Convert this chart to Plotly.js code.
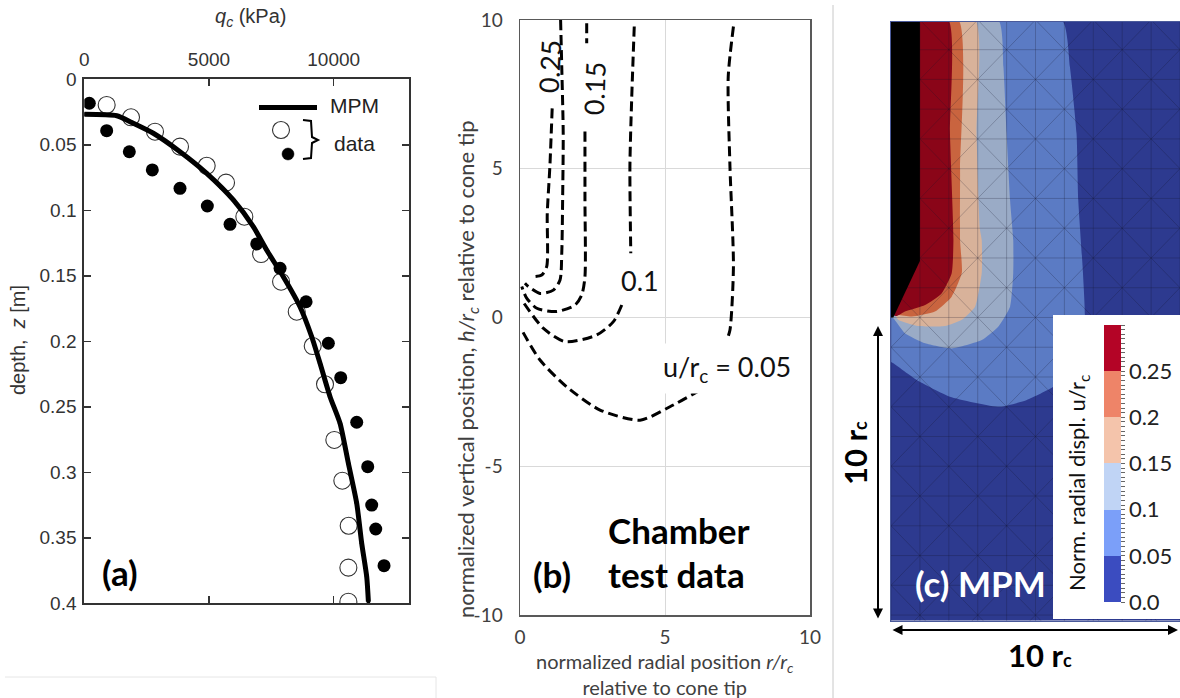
<!DOCTYPE html>
<html>
<head>
<meta charset="utf-8">
<script src="https://cdn.plot.ly/plotly-3.0.1.min.js"></script>
<style>html,body{margin:0;padding:0;background:#fff;}#chart{width:1180px;height:698px;}</style>
</head>
<body>
<div id="chart"></div>
<script>
// ---------- Panel (a): cone resistance vs depth ----------
const mpmQc = [0, 1300, 1900, 2767, 3837, 4907, 5975, 6776, 7310, 7979, 8648, 9118, 9451, 9852, 10253, 10587, 10922, 11122, 11323, 11390];
const mpmZ  = [0.0267, 0.0278, 0.033, 0.0412, 0.0553, 0.0718, 0.0921, 0.1125, 0.1303, 0.1507, 0.1736, 0.1965, 0.2168, 0.2423, 0.2626, 0.2931, 0.3237, 0.3542, 0.3797, 0.3988];
const openQc = [897, 1873, 2835, 3837, 4907, 5682, 6416, 7087, 7889, 8517, 9158, 9651, 10024, 10345, 10600, 10587, 10587];
const openZ  = [0.0196, 0.029, 0.040, 0.0514, 0.066, 0.0789, 0.1049, 0.1334, 0.1545, 0.1774, 0.2036, 0.2328, 0.2753, 0.3064, 0.3408, 0.3728, 0.3988];
const fillQc = [200, 897, 1805, 2727, 3837, 4933, 5843, 6913, 7849, 8892, 9785, 10280, 10922, 11363, 11523, 11684, 12017];
const fillZ  = [0.0183, 0.0392, 0.0553, 0.0692, 0.0832, 0.0967, 0.1107, 0.1257, 0.1443, 0.1698, 0.2015, 0.2278, 0.2618, 0.2957, 0.325, 0.3433, 0.3713];
const qcTicks = [0, 5000, 10000];
const qcTickText = ['0', '5000', '10000'];
const zTicks = [0, 0.05, 0.1, 0.15, 0.2, 0.25, 0.3, 0.35, 0.4];

// ---------- Panel (b): chamber test contours (r/rc, h/rc) ----------
const c025R = [1.11, 1.03, 0.94, 0.92, 0.75, 0.40];
const c025H = [7.03, 5.07, 3.5, 1.71, 1.43, 1.37];
const c020R = [1.40, 1.44, 1.49, 1.47, 1.44, 1.38, 1.15, 0.69, 0.29, 0.17];
const c020H = [10.0, 8.43, 6.19, 3.95, 2.16, 1.26, 0.92, 0.81, 1.04, 1.15];
const c015R = [2.30, 2.30, null, 2.24, 2.24, 2.24, 2.13, 1.90, 1.26, 0.58, 0.23, 0.06];
const c015H = [9.89, 9.22, null, 6.25, 3.95, 1.37, 0.76, 0.42, 0.20, 0.31, 0.65, 1.04];
const c010R = [3.94, 3.85, 3.79, 3.82, null, 3.51, 3.22, 2.64, 1.55, 0.80, 0.06];
const c010H = [9.78, 7.31, 5.07, 2.16, null, 0.42, -0.14, -0.59, -0.81, -0.36, 0.59];
const c005R = [7.36, 7.18, 7.24, 7.36, 7.24, 7.13, null, 6.21, 5.17, 4.14, 2.76, 1.61, 0.69, 0.06];
const c005H = [9.78, 8.09, 5.07, 1.71, -0.42, -0.76, null, -2.44, -3.0, -3.45, -3.11, -2.33, -1.43, -0.42];
const bTicks = [-10, -5, 0, 5, 10];
const bTickText = ['-10', '-5', '0', '5', '10'];
const rTicks = [0, 5, 10];
const rTickText = ['0', '5', '10'];

// ---------- Panel (c): MPM radial displacement bands (outer boundaries) ----------
const band005R = [0, 5.91, 6.19, 6.42, 6.48, 6.63, 6.71, 6.6, 6.2, 5.62, 4.70, 3.77, 2.04, 0.89, 0.08, 0];
const band005H = [10, 10, 8.43, 6.19, 3.95, 1.71, 0.03, -1.0, -1.8, -2.33, -2.77, -3.0, -2.66, -2.10, -1.54, -1.5];
const band010R = [0, 3.71, 3.89, 4.0, 4.12, 4.23, 4.23, 4.12, 3.71, 3.14, 2.10, 1.18, 0.48, 0.08, 0];
const band010H = [10, 10, 8.43, 6.19, 3.95, 2.6, 1.5, 0.36, -0.31, -0.76, -1.04, -0.87, -0.53, -0.03, 0];
const band015R = [0, 2.91, 2.96, 3.08, 3.14, 3.14, 2.91, 2.45, 1.87, 0.94, 0.25, 0.14, 0];
const band015H = [10, 10, 6.19, 2.95, 2.6, 1.5, 0.36, -0.08, -0.29, -0.29, -0.08, 0.08, 0.1];
const band020R = [0, 2.33, 2.39, 2.39, 2.45, 2.10, 1.52, 0.72, 0.25, 0];
const band020H = [10, 10, 5.0, 2.6, 1.5, 0.70, 0.20, 0.03, 0.08, 0.1];
const band025R = [0, 1.98, 2.04, 2.16, 2.10, 1.75, 1.18, 0.48, 0.20, 0];
const band025H = [10, 10, 6.19, 2.6, 1.49, 0.81, 0.42, 0.20, 0.05, 0.1];
const coneR = [0, 1.0, 1.0, 0.08, 0];
const coneH = [10, 10, 1.9, 0.0, 0.0];
const meshCols = [0, 1, 2, 3, 4, 5, 6, 7, 8, 9, 10];
const meshRows = [-11, -10, -9, -8, -7, -6, -5, -4, -3, -2, -1, 0, 1, 2, 3, 4, 5, 6, 7, 8, 9, 10];
const levels = [0, 0.05, 0.1, 0.15, 0.2, 0.25, 0.3];
const levelLabels = ['0.0', '0.05', '0.1', '0.15', '0.2', '0.25', ''];
const barColors = ['#3b4cc0', '#7b9ff9', '#c0d4f5', '#f4c4ab', '#ee8468', '#b40426'];
const fieldColors = ['#2d3a8f', '#5b7bc4', '#9aabc6', '#d8b29a', '#c9643f', '#8a0518'];

// ---------- helpers ----------
const W = 1180, H = 698;
const PX = x => x / W;
const PY = y => 1 - y / H;
const cal = 'Lato, "Open Sans", sans-serif';
const hel = '"Liberation Sans", Arial, sans-serif';

const traces = [];

// Panel (a)
traces.push({type:'scatter', mode:'markers', x:openQc, y:openZ, xaxis:'x', yaxis:'y',
  marker:{symbol:'circle-open', size:17, color:'#333', line:{width:1.1, color:'#333'}}, hoverinfo:'skip'});
traces.push({type:'scatter', mode:'lines+markers', x:mpmQc, y:mpmZ, xaxis:'x', yaxis:'y',
  line:{color:'#000', width:5, shape:'spline', smoothing:0.6}, marker:{size:4, color:'#000'}, hoverinfo:'skip'});
traces.push({type:'scatter', mode:'markers', x:fillQc, y:fillZ, xaxis:'x', yaxis:'y',
  marker:{symbol:'circle', size:13, color:'#000'}, hoverinfo:'skip'});

// Panel (b)
const contourSet = [[c025R,c025H],[c020R,c020H],[c015R,c015H],[c010R,c010H],[c005R,c005H]];
contourSet.forEach(([r,h]) => traces.push({type:'scatter', mode:'lines', x:r, y:h, xaxis:'x2', yaxis:'y2',
  line:{color:'#000', width:3, dash:'10px,5px', shape:'spline', smoothing:0.7}, connectgaps:false, hoverinfo:'skip'}));

// Panel (c) filled bands
const bands = [[band005R,band005H],[band010R,band010H],[band015R,band015H],[band020R,band020H],[band025R,band025H]];
bands.forEach(([r,h],i) => traces.push({type:'scatter', mode:'lines', x:r, y:h, xaxis:'x3', yaxis:'y3',
  fill:'toself', fillcolor:fieldColors[i+1], line:{width:0, color:fieldColors[i+1], shape:'spline', smoothing:0.5}, hoverinfo:'skip'}));
// mesh overlay
const mx = [], my = [];
meshCols.forEach(c => { mx.push(c, c, null); my.push(meshRows[0], meshRows[meshRows.length-1], null); });
meshRows.forEach(r => { mx.push(meshCols[0], meshCols[meshCols.length-1], null); my.push(r, r, null); });
for (let i = 0; i < meshCols.length-1; i++) {
  for (let j = 0; j < meshRows.length-1; j++) {
    if ((i + j) % 2 === 0) { mx.push(meshCols[i], meshCols[i+1], null); my.push(meshRows[j], meshRows[j+1], null); }
    else { mx.push(meshCols[i], meshCols[i+1], null); my.push(meshRows[j+1], meshRows[j], null); }
  }
}
traces.push({type:'scatter', mode:'lines', x:mx, y:my, xaxis:'x3', yaxis:'y3',
  line:{color:'rgba(20,20,40,0.3)', width:0.8}, hoverinfo:'skip'});
traces.push({type:'scatter', mode:'lines', x:coneR, y:coneH, xaxis:'x3', yaxis:'y3',
  fill:'toself', fillcolor:'#000', line:{width:0, color:'#000'}, hoverinfo:'skip'});
// colorbar carrier
const cs = [];
barColors.forEach((c,i) => { cs.push([i/6, c]); cs.push([(i+1)/6, c]); });
const cbVals = [], cbText = [];
for (let k = 0; k <= 60; k++) {
  const v = +(k * 0.005).toFixed(3);
  cbVals.push(v);
  const idx = levels.findIndex(l => Math.abs(l - v) < 1e-9);
  cbText.push(idx >= 0 ? levelLabels[idx] : '');
}
traces.push({type:'scatter', mode:'markers', x:[5], y:[-50], xaxis:'x3', yaxis:'y3', hoverinfo:'skip',
  marker:{color:[0.1], cmin:0, cmax:0.3, colorscale:cs, opacity:0, showscale:true,
    colorbar:{x:PX(1104), xanchor:'left', y:PY(463.5), yanchor:'middle', len:277, lenmode:'pixels',
      thickness:17, thicknessmode:'pixels', outlinewidth:0, ticks:'outside', ticklen:4, tickwidth:1, tickcolor:'#666',
      tickmode:'array', tickvals:cbVals, ticktext:cbText, tickfont:{family:cal, size:22, color:'#222'},
      xpad:0, ypad:0, bgcolor:'rgba(0,0,0,0)'}}});

const shapes = [
  {type:'rect', xref:'x3', yref:'y3', x0:0, x1:10, y0:-10.19, y1:9.94, fillcolor:fieldColors[0], line:{width:0}, layer:'below'},
  {type:'rect', xref:'paper', yref:'paper', x0:PX(1053), x1:PX(1180), y0:PY(619), y1:PY(315), fillcolor:'#fff', line:{width:0}, layer:'above'},
  {type:'line', xref:'paper', yref:'paper', x0:PX(833), x1:PX(833), y0:PY(5), y1:PY(698), line:{color:'#c8c8c8', width:1}},
  {type:'line', xref:'paper', yref:'paper', x0:PX(5), x1:PX(436), y0:PY(677), y1:PY(677), line:{color:'#e6e6e6', width:1}},
  {type:'line', xref:'paper', yref:'paper', x0:PX(436), x1:PX(436), y0:PY(677), y1:PY(698), line:{color:'#e6e6e6', width:1}},
  {type:'line', xref:'paper', yref:'paper', x0:PX(259), x1:PX(317), y0:PY(107.5), y1:PY(107.5), line:{color:'#000', width:5}},
  {type:'circle', xref:'paper', yref:'paper', x0:PX(272.5), x1:PX(289.5), y0:PY(121.5), y1:PY(138.5), line:{color:'#333', width:1.1}, fillcolor:'rgba(0,0,0,0)'},
  {type:'circle', xref:'paper', yref:'paper', x0:PX(282), x1:PX(294), y0:PY(148), y1:PY(160), line:{color:'#000', width:0.5}, fillcolor:'#000'},
  {type:'path', xref:'paper', yref:'paper',
   path:`M${PX(303)},${PY(120)} L${PX(311)},${PY(121)} L${PX(312)},${PY(137)} L${PX(318)},${PY(140)} L${PX(312)},${PY(143)} L${PX(311)},${PY(158)} L${PX(303)},${PY(159)}`,
   line:{color:'#000', width:2}}
];

const A = (o) => Object.assign({xanchor:'center', yanchor:'middle', showarrow:false}, o);
const annotations = [
  // (a)
  A({xref:'paper', yref:'paper', x:PX(355), y:PY(105), text:'MPM', font:{family:hel, size:21, color:'#222'}}),
  A({xref:'paper', yref:'paper', x:PX(355), y:PY(143), text:'data', font:{family:hel, size:21, color:'#222'}}),
  A({xref:'paper', yref:'paper', x:PX(120), y:PY(572), text:'<b>(a)</b>', font:{family:cal, size:35, color:'#000'}}),
  A({xref:'paper', yref:'paper', x:PX(250), y:PY(18), text:'<i>q</i><sub><i>c</i></sub> (kPa)', font:{family:hel, size:20, color:'#333'}}),
  A({xref:'paper', yref:'paper', x:PX(18), y:PY(340), text:'depth,  <i>z</i> [m]', textangle:-90, font:{family:hel, size:20, color:'#333'}}),
  // (b)
  A({xref:'x2', yref:'y2', x:1.0, y:8.42, text:'0.25', textangle:-87, font:{family:cal, size:27, color:'#111'}}),
  A({xref:'x2', yref:'y2', x:2.55, y:7.71, text:'0.15', textangle:-88, font:{family:cal, size:27, color:'#111'}}),
  A({xref:'x2', yref:'y2', x:4.14, y:1.26, text:'0.1', bgcolor:'#fff', borderpad:5, font:{family:cal, size:27, color:'#111'}}),
  A({xref:'x2', yref:'y2', x:7.14, y:-1.72, text:'u/r<sub>c</sub> = 0.05', bgcolor:'#fff', borderpad:6, font:{family:cal, size:27, color:'#111'}}),
  A({xref:'x2', yref:'y2', x:1.1, y:-8.62, text:'<b>(b)</b>', font:{family:cal, size:35, color:'#000'}}),
  A({xref:'x2', yref:'y2', x:2.95, xanchor:'left', y:-7.14, text:'<b>Chamber</b>', font:{family:cal, size:35, color:'#000'}}),
  A({xref:'x2', yref:'y2', x:2.95, xanchor:'left', y:-8.62, text:'<b>test data</b>', font:{family:cal, size:35, color:'#000'}}),
  A({xref:'paper', yref:'paper', x:PX(467), y:PY(369), text:'normalized vertical position, <i>h/r<sub>c</sub></i> relative to cone tip', textangle:-90, font:{family:cal, size:22, color:'#404040'}}),
  A({xref:'paper', yref:'paper', x:PX(665), y:PY(674), text:'normalized radial position <i>r/r<sub>c</sub></i><br>relative to cone tip', font:{family:cal, size:20, color:'#404040'}}),
  // (c)
  A({xref:'paper', yref:'paper', x:PX(980), y:PY(583), text:'<b>(c) MPM</b>', font:{family:cal, size:35, color:'#fff'}}),
  A({xref:'paper', yref:'paper', x:PX(1078), y:PY(483), text:'Norm. radial displ. u/r<sub>c</sub>', textangle:-90, font:{family:cal, size:22, color:'#111'}}),
  {xref:'paper', yref:'paper', x:PX(878), y:PY(326), ax:0, ay:294, text:'', showarrow:true, arrowside:'end+start', arrowhead:2, arrowsize:1, arrowwidth:2, arrowcolor:'#000'},
  {xref:'paper', yref:'paper', x:PX(1178), y:PY(630), ax:-287, ay:0, text:'', showarrow:true, arrowside:'end+start', arrowhead:2, arrowsize:1, arrowwidth:2, arrowcolor:'#000'},
  A({xref:'paper', yref:'paper', x:PX(855), y:PY(453), text:'<b>10 r<span style="font-size:18px">c</span></b>', textangle:-90, font:{family:cal, size:31, color:'#000'}}),
  A({xref:'paper', yref:'paper', x:PX(1040), y:PY(655), text:'<b>10 r<span style="font-size:18px">c</span></b>', font:{family:cal, size:31, color:'#000'}})
];

const layout = {
  width:W, height:H, margin:{l:0, r:0, t:0, b:0}, paper_bgcolor:'#fff', plot_bgcolor:'rgba(0,0,0,0)',
  showlegend:false, shapes:shapes, annotations:annotations,
  xaxis:{domain:[PX(84.3), PX(409.3)], anchor:'y', side:'top', range:[0, 13030], tickmode:'array', tickvals:qcTicks, ticktext:qcTickText,
    ticks:'inside', ticklen:7, tickwidth:1.5, tickcolor:'#333', showline:true, linecolor:'#333', linewidth:2, mirror:'ticks',
    showgrid:false, zeroline:false, tickfont:{family:hel, size:19, color:'#333'}, ticklabelstandoff:4},
  yaxis:{domain:[PY(603.3), PY(79.3)], anchor:'x', range:[0.4, 0], tickmode:'array', tickvals:zTicks,
    ticks:'inside', ticklen:7, tickwidth:1.5, tickcolor:'#333', showline:true, linecolor:'#333', linewidth:2, mirror:'ticks',
    showgrid:false, zeroline:false, tickfont:{family:hel, size:19, color:'#333'}, ticklabelstandoff:2},
  xaxis2:{domain:[PX(520), PX(810)], anchor:'y2', range:[0, 10], tickmode:'array', tickvals:rTicks, ticktext:rTickText,
    ticks:'', showline:true, linecolor:'#595959', linewidth:1.5, mirror:true, showgrid:true, gridcolor:'#d9d9d9', gridwidth:1,
    zeroline:false, tickfont:{family:cal, size:19, color:'#404040'}, ticklabelstandoff:5},
  yaxis2:{domain:[PY(615), PY(20)], anchor:'x2', range:[-10, 10], tickmode:'array', tickvals:bTicks, ticktext:bTickText,
    ticks:'', showline:true, linecolor:'#595959', linewidth:1.5, mirror:true, showgrid:true, gridcolor:'#d9d9d9', gridwidth:1,
    zeroline:false, tickfont:{family:cal, size:19, color:'#404040'}, ticklabelstandoff:12},
  xaxis3:{domain:[PX(891), PX(1180)], anchor:'y3', range:[0, 10], showticklabels:false, ticks:'', showgrid:false, zeroline:false,
    showline:true, linecolor:'#4a5a9a', linewidth:1, mirror:true},
  yaxis3:{domain:[PY(620.7), PY(21.7)], anchor:'x3', range:[-10.19, 9.94], showticklabels:false, ticks:'', showgrid:false, zeroline:false,
    showline:true, linecolor:'#4a5a9a', linewidth:1, mirror:true}
};

Plotly.newPlot('chart', traces, layout, {staticPlot:true, displayModeBar:false});
</script>
</body>
</html>
